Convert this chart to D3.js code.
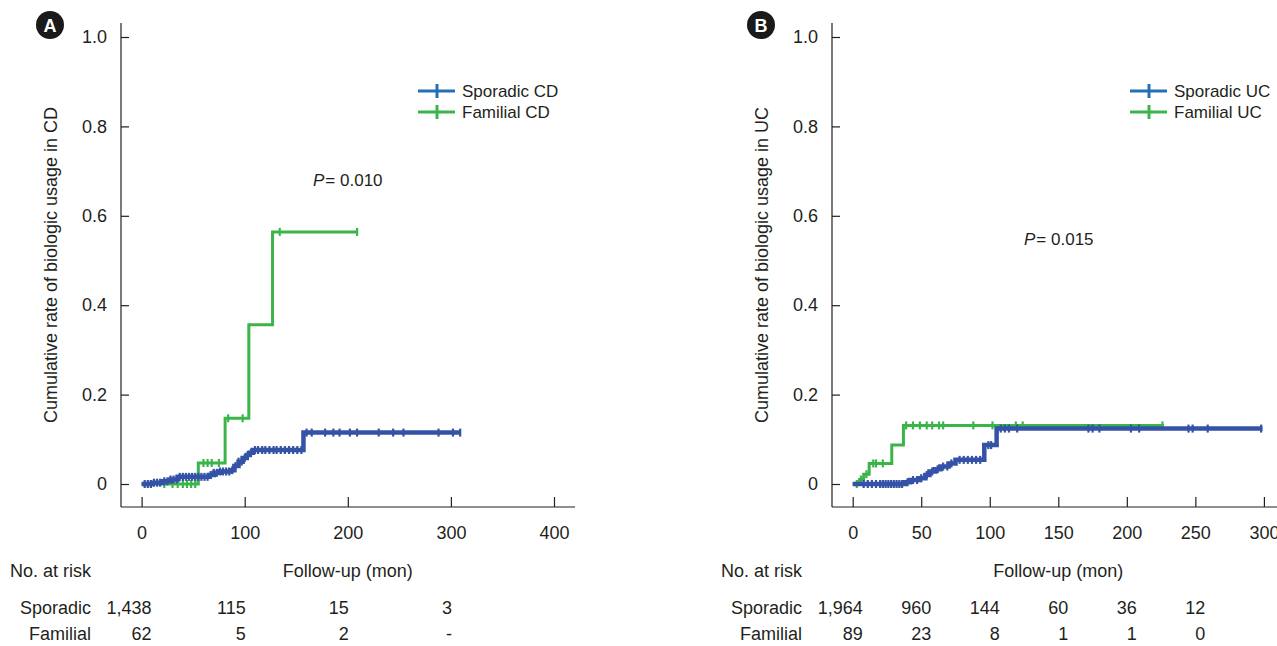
<!DOCTYPE html>
<html>
<head>
<meta charset="utf-8">
<script src="https://cdn.jsdelivr.net/npm/d3@7"></script>
<style>
  body { margin: 0; background: #fff; }
  svg { display: block; font-family: "Liberation Sans", Arial, sans-serif; }
  .axis text { font-size: 18px; fill: #231f20; }
  .axis line { stroke: #231f20; stroke-width: 1.2px; }
</style>
</head>
<body>
<div id="chart"></div>
<script>
// panel A: Crohn's disease
var cdTicksX = [0, 100, 200, 300, 400];
var cdSporadicSteps = [[0, 0], [10, 0.003], [20, 0.006], [28, 0.010], [35, 0.016], [66, 0.020], [70, 0.025],
  [76, 0.028], [86, 0.031], [90, 0.040], [94, 0.050], [98, 0.058], [102, 0.065], [105, 0.070], [108, 0.076],
  [157, 0.115], [309, 0.115]];
var cdFamilialSteps = [[0, 0], [55, 0.047], [81, 0.147], [104, 0.356], [127, 0.564], [209, 0.564]];
var cdSporadicCensor = [3, 6, 9, 12, 15, 18, 22, 25, 28, 31, 34, 37, 40, 43, 46, 49, 52, 55, 58, 61, 64, 67, 70,
  73, 76, 79, 82, 85, 88, 91, 94, 97, 100, 103, 106, 110, 113, 117, 120, 124, 128, 131, 135, 139, 143, 147, 151,
  155, 160, 165, 178, 186, 192, 202, 209, 230, 244, 254, 288, 302, 309];
var cdFamilialCensor = [22, 30, 35, 40, 44, 48, 52, 60, 64, 68, 75, 84, 98, 134, 209];
var cdRiskTimes = [0, 100, 200, 300];
var cdRiskSporadic = ['1,438', '115', '15', '3'];
var cdRiskFamilial = ['62', '5', '2', '-'];

// panel B: ulcerative colitis
var ucTicksX = [0, 50, 100, 150, 200, 250, 300];
var ucSporadicSteps = [[0, 0], [38, 0.004], [42, 0.009], [49, 0.013], [53, 0.020], [56, 0.028], [60, 0.033],
  [64, 0.039], [70, 0.046], [75, 0.054], [96, 0.087], [105, 0.124], [299, 0.124]];
var ucFamilialSteps = [[0, 0], [5, 0.010], [8, 0.022], [12, 0.046], [28.5, 0.087], [37, 0.131], [227, 0.131]];
var ucSporadicCensor = [8, 11, 14, 17, 20, 22, 24, 26, 28, 30, 32, 34, 36, 40, 44, 47, 50, 54, 58, 62, 66, 69,
  72, 78, 81, 84, 87, 90, 93, 99, 101, 108, 111, 114, 120, 172, 175, 180, 203, 209, 245, 248, 259, 298];
var ucFamilialCensor = [3, 6, 10, 15, 17, 22, 39, 44, 49, 54, 58, 63, 66, 88, 102, 119, 124, 226];
var ucRiskTimes = [0, 50, 100, 150, 200, 250];
var ucRiskSporadic = ['1,964', '960', '144', '60', '36', '12'];
var ucRiskFamilial = ['89', '23', '8', '1', '1', '0'];

var ticksY = [0, 0.2, 0.4, 0.6, 0.8, 1.0];

var blueCurve = '#3452a6', blueLegend = '#2470b8', green = '#3bb54a', ink = '#231f20';

var svg = d3.select('#chart').append('svg')
  .attr('width', 1277)
  .attr('height', 646);

drawPanel({
  letter: 'A', axisX: 121, xMax: 400, range: [141.6, 554], axisEnd: 575,
  ticksX: cdTicksX, steps: [cdSporadicSteps, cdFamilialSteps], censor: [cdSporadicCensor, cdFamilialCensor],
  names: ['Sporadic CD', 'Familial CD'], legendX: 418, pText: '= 0.010', pX: 313, pY: 180,
  title: 'Cumulative rate of biologic usage in CD',
  riskTimes: cdRiskTimes, risk: [cdRiskSporadic, cdRiskFamilial], riskPad: 1
});
drawPanel({
  letter: 'B', axisX: 832, xMax: 300, range: [852.7, 1263.9], axisEnd: 1290,
  ticksX: ucTicksX, steps: [ucSporadicSteps, ucFamilialSteps], censor: [ucSporadicCensor, ucFamilialCensor],
  names: ['Sporadic UC', 'Familial UC'], legendX: 1130, pText: '= 0.015', pX: 1024, pY: 239,
  title: 'Cumulative rate of biologic usage in UC',
  riskTimes: ucRiskTimes, risk: [ucRiskSporadic, ucRiskFamilial], riskPad: 10
});

function drawPanel(cfg) {
  var g = svg.append('g');
  var x = d3.scaleLinear().domain([0, cfg.xMax]).range(cfg.range);
  var y = d3.scaleLinear().domain([0, 1]).range([484, 37]);
  var baseY = 507;

  // axes
  var yAxis = g.append('g').attr('class', 'axis')
    .attr('transform', 'translate(' + cfg.axisX + ',0)')
    .call(d3.axisLeft(y).tickValues(ticksY).tickSizeInner(-8).tickSizeOuter(0).tickPadding(14)
      .tickFormat(function (d) { return d === 0 ? '0' : d3.format('.1f')(d); }));
  yAxis.select('.domain').remove();
  yAxis.append('line').attr('x1', 0).attr('x2', 0).attr('y1', 23).attr('y2', baseY);

  var xAxis = g.append('g').attr('class', 'axis')
    .attr('transform', 'translate(0,' + baseY + ')')
    .call(d3.axisBottom(x).tickValues(cfg.ticksX).tickSizeInner(-10).tickSizeOuter(0).tickPadding(19)
      .tickFormat(d3.format('d')));
  xAxis.select('.domain').remove();
  xAxis.append('line').attr('x1', cfg.axisX).attr('x2', cfg.axisEnd).attr('y1', 0).attr('y2', 0);

  g.append('text')
    .attr('transform', 'translate(' + (cfg.axisX - 70) + ',265) rotate(-90)')
    .attr('text-anchor', 'middle')
    .attr('dominant-baseline', 'central')
    .style('font-size', '18px').style('fill', ink)
    .text(cfg.title);

  // curves
  var line = d3.line()
    .x(function (d) { return x(d[0]); })
    .y(function (d) { return y(d[1]); })
    .curve(d3.curveStepAfter);
  var colors = [blueCurve, green];
  var widths = [4.5, 3];
  var bis = d3.bisector(function (d) { return d[0]; }).right;

  [1, 0].forEach(function (k) {
    var steps = cfg.steps[k];
    g.append('path')
      .attr('d', line(steps))
      .attr('fill', 'none')
      .attr('stroke', colors[k])
      .attr('stroke-width', widths[k])
      .attr('stroke-linejoin', 'miter');
    g.selectAll(null).data(cfg.censor[k]).enter().append('line')
      .attr('x1', function (t) { return x(t); })
      .attr('x2', function (t) { return x(t); })
      .attr('y1', function (t) { return y(steps[Math.max(0, bis(steps, t) - 1)][1]) - 4; })
      .attr('y2', function (t) { return y(steps[Math.max(0, bis(steps, t) - 1)][1]) + 4; })
      .attr('stroke', colors[k])
      .attr('stroke-width', 2.2);
  });

  // legend
  var legendColors = [blueLegend, green];
  cfg.names.forEach(function (name, k) {
    var ly = 91 + k * 21;
    g.append('line').attr('x1', cfg.legendX).attr('x2', cfg.legendX + 37)
      .attr('y1', ly).attr('y2', ly)
      .attr('stroke', legendColors[k]).attr('stroke-width', 3);
    g.append('line').attr('x1', cfg.legendX + 19).attr('x2', cfg.legendX + 19)
      .attr('y1', ly - 7).attr('y2', ly + 7)
      .attr('stroke', legendColors[k]).attr('stroke-width', 3);
    g.append('text')
      .attr('x', cfg.legendX + 44).attr('y', ly)
      .attr('dominant-baseline', 'central')
      .style('font-size', '17px').style('fill', ink)
      .text(name);
  });

  // P value
  var p = g.append('text')
    .attr('x', cfg.pX).attr('y', cfg.pY)
    .attr('dominant-baseline', 'central')
    .style('font-size', '17px').style('fill', ink);
  p.append('tspan').style('font-style', 'italic').text('P');
  p.append('tspan').attr('dx', 1).text(cfg.pText);

  // badge
  g.append('circle').attr('cx', cfg.axisX - 71).attr('cy', 25).attr('r', 14).attr('fill', '#1a1a1a');
  g.append('text')
    .attr('x', cfg.axisX - 71).attr('y', 26)
    .attr('text-anchor', 'middle')
    .attr('dominant-baseline', 'central')
    .style('font-size', '18px').style('font-weight', 'bold').style('fill', '#fff')
    .text(cfg.letter);

  // number at risk
  var mid = (cfg.range[0] + cfg.range[1]) / 2;
  g.append('text').attr('x', cfg.axisX - 111).attr('y', 571)
    .attr('dominant-baseline', 'central')
    .style('font-size', '18px').style('fill', ink).text('No. at risk');
  g.append('text').attr('x', mid).attr('y', 571)
    .attr('text-anchor', 'middle')
    .attr('dominant-baseline', 'central')
    .style('font-size', '18px').style('fill', ink).text('Follow-up (mon)');
  ['Sporadic', 'Familial'].forEach(function (lab, k) {
    var ry = 608 + k * 26;
    g.append('text').attr('x', cfg.axisX - 30).attr('y', ry)
      .attr('text-anchor', 'end')
      .attr('dominant-baseline', 'central')
      .style('font-size', '18px').style('fill', ink).text(lab);
    g.selectAll(null).data(cfg.riskTimes).enter().append('text')
      .attr('x', function (t, i) { return x(t) + (i === 0 ? 10 : cfg.riskPad); })
      .attr('y', ry)
      .attr('text-anchor', 'end')
      .attr('dominant-baseline', 'central')
      .style('font-size', '18px').style('fill', ink)
      .text(function (t, i) { return cfg.risk[k][i]; });
  });
}
</script>
</body>
</html>
